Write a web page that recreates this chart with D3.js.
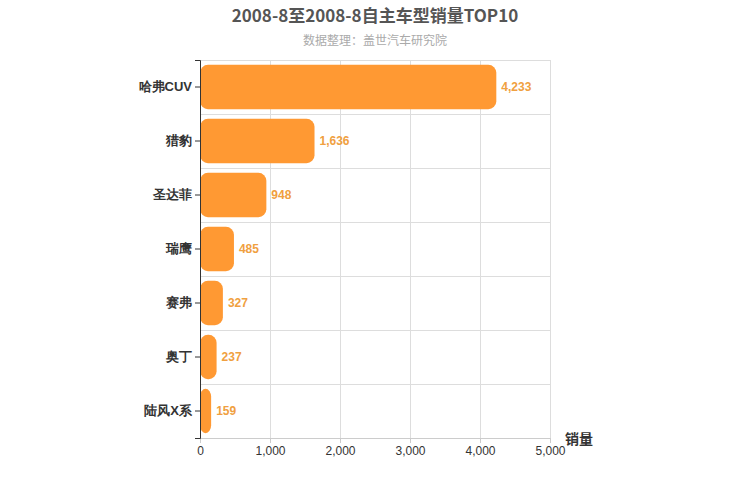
<!DOCTYPE html>
<html><head><meta charset="utf-8">
<script src="https://cdn.jsdelivr.net/npm/d3@7"></script>
<style>body{margin:0;font-family:"Noto Sans CJK SC","Noto Sans",sans-serif;}</style>
</head><body><svg width="750" height="500"></svg>
<script>
const categories = ["哈弗CUV", "猎豹", "圣达菲", "瑞鹰", "赛弗", "奥丁", "陆风X系"];
const sales = [4233, 1636, 948, 485, 327, 237, 159];
const xTicks = [0, 1000, 2000, 3000, 4000, 5000];

const svg = d3.select("svg");
const m = {left: 200, right: 550, top: 60, bottom: 438};
const x = d3.scaleLinear().domain([0, 5000]).range([m.left, m.right]);
const y = d3.scaleBand().domain(categories).range([m.top, m.bottom]).paddingInner(0.18).paddingOuter(0.09);
const fmt = d3.format(",");

// title
svg.append("text").attr("x", 375).attr("y", 22).attr("text-anchor", "middle")
  .attr("font-size", 17).attr("font-weight", "bold").attr("fill", "#555")
  .text("2008-8至2008-8自主车型销量TOP10");
svg.append("text").attr("x", 375).attr("y", 45).attr("text-anchor", "middle")
  .attr("font-size", 12).attr("fill", "#aaa").text("数据整理：盖世汽车研究院");

// grid
const step = (m.bottom - m.top) / categories.length;
const g = svg.append("g").attr("stroke", "#ddd").attr("shape-rendering", "crispEdges");
xTicks.forEach(t => g.append("line").attr("x1", x(t)).attr("x2", x(t)).attr("y1", m.top).attr("y2", m.bottom));
d3.range(categories.length + 1).forEach(i => g.append("line")
  .attr("x1", m.left).attr("x2", m.right).attr("y1", m.top + i * step).attr("y2", m.top + i * step));

// bars
svg.append("g").selectAll("rect").data(sales).join("rect")
  .attr("x", x(0)).attr("y", (d, i) => y(categories[i]))
  .attr("width", d => x(d) - x(0)).attr("height", y.bandwidth())
  .attr("rx", 8).attr("fill", "#ff9933");

svg.append("g").selectAll("text").data(sales).join("text")
  .attr("x", d => x(d) + 5).attr("y", (d, i) => y(categories[i]) + y.bandwidth() / 2 + 4)
  .attr("font-size", 12).attr("font-weight", "bold").attr("fill", "#f0a040")
  .attr("font-family", "Arial, Liberation Sans, sans-serif").text(d => fmt(d));

// axes
const xa = svg.append("g").attr("transform", `translate(0,${m.bottom})`)
  .call(d3.axisBottom(x).tickValues(xTicks).tickFormat(fmt).tickSize(5));
xa.select(".domain").attr("stroke", "#ccc");
xa.selectAll("line").attr("stroke", "#ccc");
xa.selectAll("text").attr("font-size", 12).attr("fill", "#333").attr("font-family", "Arial, Liberation Sans, sans-serif");

const ya = svg.append("g").attr("transform", `translate(${m.left},0)`)
  .call(d3.axisLeft(y).tickSize(5));
ya.select(".domain").attr("stroke", "#333");
ya.selectAll("line").attr("stroke", "#333");
ya.selectAll("text").attr("font-size", 13).attr("font-weight", "bold").attr("fill", "#333");

svg.append("text").attr("x", 565).attr("y", 444).attr("font-size", 14)
  .attr("font-weight", "bold").attr("fill", "#333").text("销量");
</script></body></html>
